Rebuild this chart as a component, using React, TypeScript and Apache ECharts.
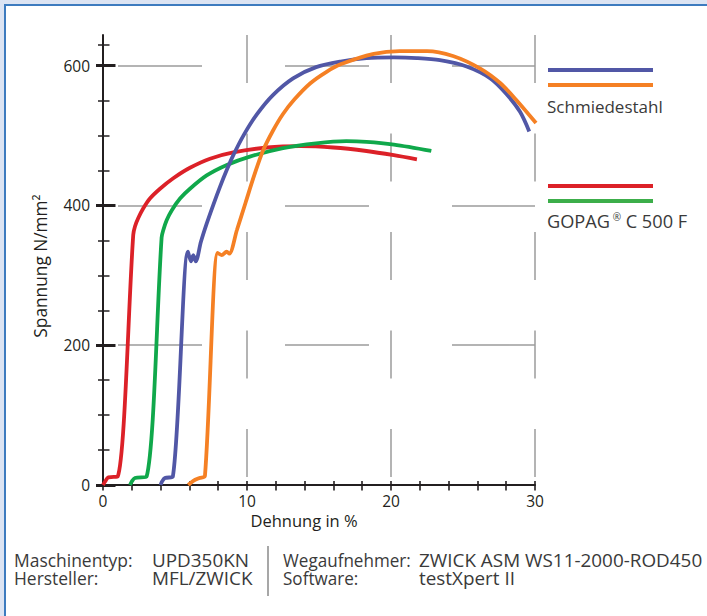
import React, { useEffect, useRef } from "react";
import * as echarts from "echarts";

// Tick values
const xTickStep = 2;
const xGridStep = 10;
const yMajorTicks = [0, 200, 400, 600];
const yMinorTicks = [50, 100, 150, 250, 300, 350, 450, 500, 550, 630];

// Curves: [Dehnung %, Spannung N/mm²]
const gopagRed: number[][] = [
  [0.0, 0], [0.15, 5], [0.37, 11], [1.02, 12], [2.1, 358], [2.22, 370], [2.45, 382],
  [2.8, 396], [3.26, 410], [3.96, 424], [4.88, 439], [6.04, 454], [7.43, 467],
  [9.05, 476], [11.4, 483], [13.7, 485], [16.0, 483], [18.3, 478], [20.2, 472], [21.8, 466],
];
const gopagGreen: number[][] = [
  [1.88, 0], [2.0, 5], [2.22, 10], [3.03, 12], [4.07, 354], [4.19, 365], [4.42, 379],
  [4.77, 393], [5.35, 410], [6.04, 424], [7.2, 443], [8.6, 458], [10.2, 470], [12.5, 482],
  [14.8, 489], [16.9, 492], [18.3, 491], [20.2, 487], [22.8, 478],
];
const stahlBlue: number[][] = [
  [4.0, 0], [4.1, 5], [4.3, 10], [4.85, 12], [5.9, 334], [6.11, 320], [6.27, 329],
  [6.44, 320], [6.8, 348], [7.2, 374], [7.66, 401], [8.13, 427], [8.6, 451], [9.05, 472],
  [9.75, 500], [10.67, 530], [11.8, 558], [13.2, 582], [14.8, 598], [16.5, 606],
  [18.3, 611], [20.2, 612], [21.8, 611], [23.4, 608], [25.25, 599], [26.9, 582],
  [28.0, 560], [28.96, 534], [29.6, 506],
];
const stahlOrange: number[][] = [
  [5.92, 0], [6.27, 6], [6.7, 10], [7.08, 13], [7.96, 332], [8.24, 329], [8.59, 334],
  [8.77, 331], [9.3, 365], [9.9, 404], [10.5, 443], [11.1, 478], [11.8, 507], [12.5, 531],
  [13.3, 552], [14.4, 575], [15.5, 591], [16.5, 602], [18.8, 617],
  [20.6, 621], [22.5, 621], [24.3, 614], [26.2, 596], [27.6, 575], [28.7, 551], [30.07, 518],
];

// Info table below the chart (two lines per column)
const infoColumns: string[][] = [
  ["Maschinentyp:", "Hersteller:"],
  ["UPD350KN", "MFL/ZWICK"],
  ["Wegaufnehmer:", "Software:"],
  ["ZWICK ASM WS11-2000-ROD450", "testXpert II"],
];

const BLUE = "#5157a6";
const ORANGE = "#f58024";
const RED = "#dc2128";
const GREEN = "#10a84b";
const AX = "#231f20";
const GRID = "#9c9c9c";
const TXT = "#3a3a3a";
const FONT = "'Open Sans', 'Noto Sans', sans-serif";

function makeOption(): any {
  const xCommon = { type: "value", position: "bottom", min: 0, max: 30 };
  const yCommon = { type: "value", position: "left", min: 0, max: 644 };
  const hidden = {
    axisLine: { show: false, onZero: false },
    axisLabel: { show: false },
    splitLine: { show: false },
  };
  const line = (data: number[][], color: string) => ({
    type: "line",
    data,
    xAxisIndex: 0,
    yAxisIndex: 0,
    showSymbol: false,
    symbol: "none",
    smooth: 0.3,
    clip: false,
    lineStyle: { color, width: 3.8 },
  });
  const colX = [14, 152, 283, 419];
  const colScale = [0.97, 1.05, 0.95, 1.05];
  const info = infoColumns.map((lines, i) => ({
    type: "text",
    x: colX[i],
    y: 569,
    scaleX: colScale[i],
    style: {
      text: lines.join("\n"),
      fontFamily: FONT,
      fontSize: 18,
      lineHeight: 18,
      fill: TXT,
      align: "left",
      verticalAlign: "middle",
    },
  }));
  return {
    animation: false,
    grid: { left: 103, top: 35, width: 432, height: 450 },
    xAxis: [
      {
        ...xCommon,
        interval: xTickStep,
        axisLine: { show: true, onZero: false, lineStyle: { color: AX, width: 2 } },
        axisTick: { show: true, inside: false, length: 5.5, lineStyle: { color: AX, width: 1.6 } },
        axisLabel: {
          margin: 8,
          fontFamily: FONT,
          fontSize: 15.5,
          color: AX,
          formatter: (v: number) => (Math.round(v) % 10 === 0 ? String(Math.round(v)) : ""),
        },
        splitLine: { show: false },
      },
      {
        ...xCommon,
        ...hidden,
        interval: xTickStep,
        axisTick: { show: true, inside: true, length: 4, lineStyle: { color: AX, width: 1.6 } },
      },
      {
        ...xCommon,
        interval: xGridStep,
        axisLine: { show: false, onZero: false },
        axisLabel: { show: false },
        axisTick: { show: false },
        splitLine: {
          show: true,
          showMinLine: false,
          lineStyle: { color: GRID, width: 1.5, type: [48, 50.5], dashOffset: 0 },
        },
      },
    ],
    yAxis: [
      {
        ...yCommon,
        axisLine: { show: true, onZero: false, lineStyle: { color: AX, width: 2 } },
        axisTick: { show: true, customValues: yMajorTicks, inside: false, length: 7, lineStyle: { color: AX, width: 3 } },
        axisLabel: { customValues: yMajorTicks, margin: 13, fontFamily: FONT, fontSize: 15.5, color: AX },
        splitLine: { show: false },
      },
      {
        ...yCommon,
        ...hidden,
        axisTick: { show: true, customValues: yMajorTicks, inside: true, length: 12.5, lineStyle: { color: AX, width: 3 } },
      },
      {
        ...yCommon,
        ...hidden,
        axisTick: { show: true, customValues: yMinorTicks, inside: false, length: 5, lineStyle: { color: AX, width: 1.5 } },
      },
      {
        ...yCommon,
        ...hidden,
        axisTick: { show: true, customValues: yMinorTicks, inside: true, length: 6.5, lineStyle: { color: AX, width: 1.5 } },
      },
      {
        ...yCommon,
        interval: 200,
        axisLine: { show: false, onZero: false },
        axisLabel: { show: false },
        axisTick: { show: false },
        splitLine: {
          show: true,
          showMinLine: false,
          showMaxLine: false,
          lineStyle: { color: GRID, width: 1.5, type: [84, 83], dashOffset: 152 },
        },
      },
    ],
    series: [line(gopagRed, RED), line(gopagGreen, GREEN), line(stahlBlue, BLUE), line(stahlOrange, ORANGE)],
    graphic: [
      { type: "line", shape: { x1: 548, y1: 70, x2: 653, y2: 70 }, style: { stroke: BLUE, lineWidth: 4 } },
      { type: "line", shape: { x1: 548, y1: 85, x2: 653, y2: 85 }, style: { stroke: ORANGE, lineWidth: 4 } },
      { type: "line", shape: { x1: 548, y1: 186, x2: 653, y2: 186 }, style: { stroke: RED, lineWidth: 4 } },
      { type: "line", shape: { x1: 548, y1: 201, x2: 653, y2: 201 }, style: { stroke: "#3cae4a", lineWidth: 4 } },
      {
        type: "text", x: 547, y: 106,
        style: { text: "Schmiedestahl", fontFamily: FONT, fontSize: 17, fill: TXT, align: "left", verticalAlign: "middle" },
      },
      {
        type: "text", x: 547, y: 221,
        style: {
          text: "{a|GOPAG}{s| ®}{a| C 500 F}",
          align: "left", verticalAlign: "middle",
          rich: {
            a: { fontFamily: FONT, fontSize: 18.2, fill: TXT },
            s: { fontFamily: FONT, fontSize: 10, fill: TXT, verticalAlign: "top" },
          },
        },
      },
      {
        type: "text", x: 304, y: 520,
        style: { text: "Dehnung in %", fontFamily: FONT, fontSize: 16.5, fill: AX, align: "center", verticalAlign: "middle" },
      },
      {
        type: "text", x: 40, y: 266, rotation: Math.PI / 2,
        style: { text: "Spannung N/mm²", fontFamily: FONT, fontSize: 17.3, fill: AX, align: "center", verticalAlign: "middle" },
      },
      ...info,
      { type: "line", shape: { x1: 268, y1: 546, x2: 268, y2: 596 }, style: { stroke: "#8a8a8a", lineWidth: 1.5 } },
    ],
  };
}

export default function App() {
  const ref = useRef<HTMLDivElement>(null);
  useEffect(() => {
    document.body.style.margin = "0";
    const chart = echarts.init(ref.current as HTMLDivElement, null, { renderer: "svg" });
    chart.setOption(makeOption());
    return () => chart.dispose();
  }, []);
  return (
    <div style={{ position: "relative", width: 707, height: 616, background: "#dce4f3", overflow: "hidden" }}>
      <div
        style={{
          position: "absolute", left: 4, top: 4, right: 0, bottom: 0,
          borderLeft: "2px solid #3d7bbf", borderTop: "2px solid #3d7bbf", background: "#ffffff",
        }}
      />
      <div ref={ref} style={{ position: "absolute", left: 0, top: 0, width: 707, height: 616 }} />
    </div>
  );
}
